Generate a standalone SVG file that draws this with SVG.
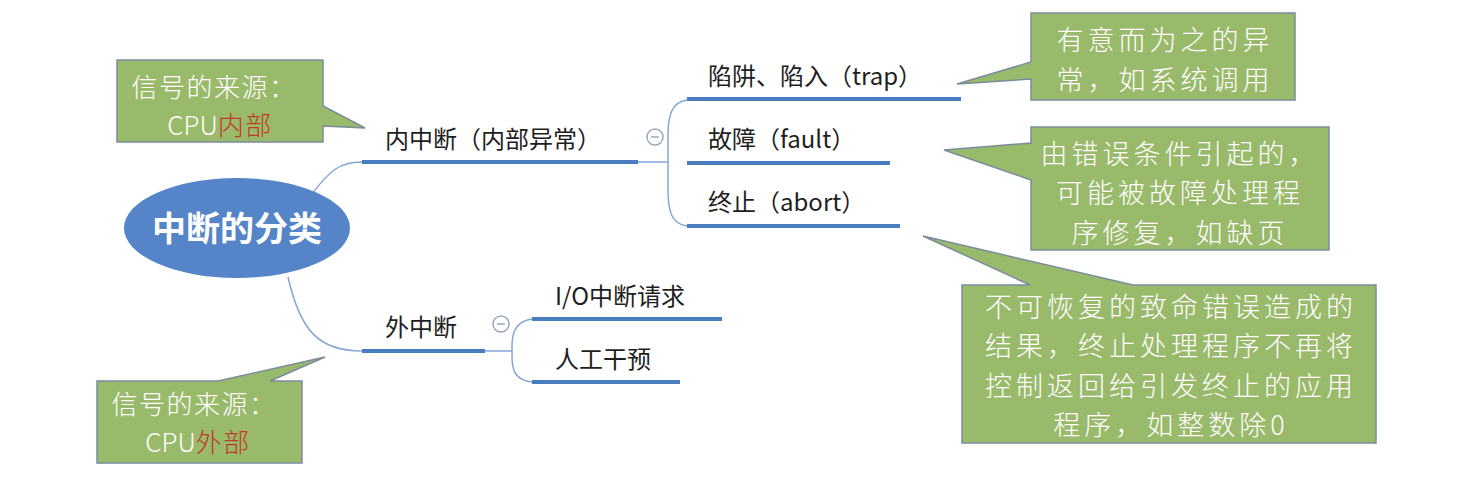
<svg xmlns="http://www.w3.org/2000/svg" width="1464" height="484" viewBox="0 0 1464 484">
<style>
.lbl{font-family:"Noto Sans CJK SC","Liberation Sans",sans-serif;font-size:24px;fill:#1e1e1e}
.co{fill:#9aba6b;stroke:#7a8c9c;stroke-width:1.5}
.ct{font-family:"Noto Sans CJK SC","Liberation Sans",sans-serif;font-weight:300;fill:#ffffff;text-anchor:middle}
.big{font-size:27px;letter-spacing:4px}
.sm{font-size:26px;letter-spacing:1.5px}
.lat{letter-spacing:0}
.red{fill:#c0392b}
.bar{stroke:#4a7dc0;stroke-width:4;fill:none}
.cn{stroke:#86a6d6;stroke-width:1.5;fill:none}
.tg{fill:#ffffff;stroke:#9aa8bf;stroke-width:1.5}
</style>
<rect width="1464" height="484" fill="#ffffff"/>
<g id="connectors">
<path class="cn" d="M312 194 C330 170 340 162 362 162"/>
<path class="cn" d="M288 277 C300 330 318 351 362 351"/>
<path class="cn" d="M638 162 H668"/>
<path class="cn" d="M687 100 C672 102 668 115 668 135 V190 C668 212 672 224 687 226"/>
<path class="cn" d="M485 351 H512"/>
<path class="cn" d="M532 319 C516 321 512 333 512 345 V356 C512 372 516 380 532 382"/>
</g>
<g id="root">
<ellipse cx="237" cy="228" rx="113" ry="50" fill="#5585c8"/>
<text x="237" y="241" text-anchor="middle" font-family="Noto Sans CJK SC, Liberation Sans, sans-serif" font-size="34" font-weight="bold" fill="#ffffff">中断的分类</text>
</g>
<g id="inner">
<text class="lbl" x="385" y="148">内中断（内部异常）</text>
<path class="bar" d="M362 162 H638"/>
<circle class="tg" cx="655" cy="137" r="8"/><path d="M651 137 H659" stroke="#9aa8bf" stroke-width="1.5"/>
</g>
<g id="trap">
<text class="lbl" x="708" y="85">陷阱、陷入（trap）</text>
<path class="bar" d="M687 99 H961"/>
</g>
<g id="fault">
<text class="lbl" x="708" y="148">故障（fault）</text>
<path class="bar" d="M687 163 H890"/>
</g>
<g id="abort">
<text class="lbl" x="708" y="211">终止（abort）</text>
<path class="bar" d="M687 226 H900"/>
</g>
<g id="outer">
<text class="lbl" x="385" y="336">外中断</text>
<path class="bar" d="M362 351 H485"/>
<circle class="tg" cx="501" cy="324" r="8"/><path d="M497 324 H505" stroke="#9aa8bf" stroke-width="1.5"/>
</g>
<g id="io">
<text class="lbl" x="555" y="305">I/O中断请求</text>
<path class="bar" d="M532 319 H722"/>
</g>
<g id="manual">
<text class="lbl" x="555" y="368">人工干预</text>
<path class="bar" d="M532 382 H680"/>
</g>
<g id="note-inner">
<path class="co" d="M117 60 H323 V106 L365 128 L323 126 V142 H117 Z"/>
<text class="ct sm" x="214" y="97">信号的来源：</text>
<text class="ct sm" x="220" y="135"><tspan class="lat">CPU</tspan><tspan class="red">内部</tspan></text>
</g>
<g id="note-trap">
<path class="co" d="M1031 13 H1295 V100 H1031 V79 L957 84 L1031 62 Z"/>
<text class="ct big" x="1165" y="50">有意而为之的异</text>
<text class="ct big" x="1165" y="89.5">常，如系统调用</text>
</g>
<g id="note-fault">
<path class="co" d="M1031 127 H1329 V250 H1031 V180 L944 150 L1031 143 Z"/>
<text class="ct big" x="1180" y="164">由错误条件引起的，</text>
<text class="ct big" x="1180" y="203.3">可能被故障处理程</text>
<text class="ct big" x="1180" y="242.6">序修复，如缺页</text>
</g>
<g id="note-abort">
<path class="co" d="M962 285 H1030 L923 236 L1133 285 H1376 V443 H962 Z"/>
<text class="ct big" x="1171" y="317">不可恢复的致命错误造成的</text>
<text class="ct big" x="1171" y="356.4">结果，终止处理程序不再将</text>
<text class="ct big" x="1171" y="395.8">控制返回给引发终止的应用</text>
<text class="ct big" x="1171" y="435.2">程序，如整数除0</text>
</g>
<g id="note-outer">
<path class="co" d="M97 381 H218 L325 357 L270 381 H302 V463 H97 Z"/>
<text class="ct sm" x="194" y="414">信号的来源：</text>
<text class="ct sm" x="198" y="452"><tspan class="lat">CPU</tspan><tspan class="red">外部</tspan></text>
</g>
</svg>
